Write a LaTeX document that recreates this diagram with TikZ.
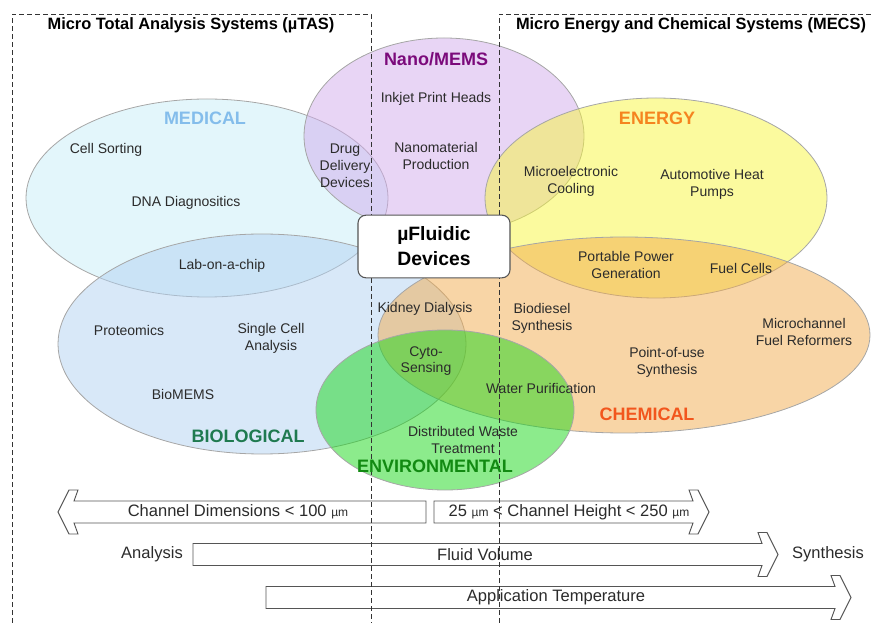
\documentclass[tikz,border=0pt]{standalone}
\usepackage{fontspec}
\setmainfont{Liberation Sans}
\definecolor{medfill}{HTML}{C7EDF7}
\definecolor{nanofill}{HTML}{D1ABEB}
\definecolor{enfill}{HTML}{F7F53D}
\definecolor{chemfill}{HTML}{F1AB4D}
\definecolor{biofill}{HTML}{B1D1F1}
\definecolor{envfill}{HTML}{19D719}
\definecolor{medlab}{HTML}{84BDEB}
\definecolor{nanolab}{HTML}{7B0A7B}
\definecolor{enlab}{HTML}{F5841F}
\definecolor{chemlab}{HTML}{F2561D}
\definecolor{biolab}{HTML}{1F7A50}
\definecolor{envlab}{HTML}{128A12}
\definecolor{txt}{HTML}{2B2B2B}
\definecolor{edge}{HTML}{555555}
\newcommand{\um}{{\fontsize{9}{10}\selectfont µm}}
% block arrow pointing right: start x, head base x, centre y
\newcommand{\blockarrowright}[3]{%
  \draw[blockarrow] (#1,#3-11) -- (#2,#3-11) -- (#2-4,#3-22) -- (#2+5,#3-22)
    -- (#2+16,#3) -- (#2+5,#3+22) -- (#2-4,#3+22) -- (#2,#3+11) -- (#1,#3+11) -- cycle;}
% block arrow pointing left: end x, head base x, centre y
\newcommand{\blockarrowleft}[3]{%
  \draw[blockarrow] (#1,#3-11) -- (#2,#3-11) -- (#2+4,#3-22) -- (#2-5,#3-22)
    -- (#2-16,#3) -- (#2-5,#3+22) -- (#2+4,#3+22) -- (#2,#3+11) -- (#1,#3+11) -- cycle;}
\tikzset{
  zone/.style={draw=black!35, line width=0.6pt, fill opacity=0.5},
  item/.style={font=\fontsize{10.5}{12.6}\selectfont, text=txt, align=center, inner sep=0pt},
  cat/.style={font=\fontsize{13.5}{16}\selectfont\bfseries, inner sep=0pt},
  hdr/.style={font=\fontsize{12.3}{14}\selectfont\bfseries, inner sep=0pt},
  bartext/.style={font=\fontsize{12.4}{14}\selectfont, text=txt, inner sep=0pt},
  blockarrow/.style={draw=edge, line width=0.7pt, fill=white, line join=miter},
  frame/.style={draw=black!80, line width=0.7pt, dash pattern=on 3.75pt off 2.25pt},
  core/.style={draw=edge, line width=0.8pt, fill=white, rounded corners=6pt,
    minimum width=114pt, minimum height=47pt, align=center,
    font=\fontsize{14.5}{18.8}\selectfont\bfseries}
}
\begin{document}
\begin{tikzpicture}[x=0.75pt,y=-0.75pt]
\useasboundingbox (0,0) rectangle (871,623);

% application areas
\path[zone, fill=medfill]  (207,198) ellipse [x radius=181, y radius=99];
\path[zone, fill=biofill]  (262,344) ellipse [x radius=204, y radius=110];
\path[zone, fill=nanofill] (444,136) ellipse [x radius=140, y radius=98];
\path[zone, fill=enfill]   (656,198) ellipse [x radius=171, y radius=100];
\path[zone, fill=chemfill] (624,335) ellipse [x radius=246, y radius=98];
\path[zone, fill=envfill]  (445,410) ellipse [x radius=129, y radius=80];

% scale bars
\blockarrowleft{426}{74}{512}
\blockarrowright{434}{693}{512}
\blockarrowright{193}{762}{554.5}
\blockarrowright{266}{835}{597.5}

% system boundaries
\draw[frame] (12,623) -- (12,14) -- (371,14) -- (371,623);
\draw[frame] (499,623) -- (499,14) -- (871,14);

% headers
\node[hdr] (mtas) at (191,25) {Micro Total Analysis Systems (µTAS)};
\node[hdr] (mecs) at (691,25) {Micro Energy and Chemical Systems (MECS)};

% category labels
\node[cat, text=medlab]  (medical) at (205,118) {MEDICAL};
\node[cat, text=nanolab] (nano)    at (436,59)  {Nano/MEMS};
\node[cat, text=enlab]   (energy)  at (657,118) {ENERGY};
\node[cat, text=chemlab] (chem)    at (647,414) {CHEMICAL};
\node[cat, text=biolab]  (bio)     at (248,436) {BIOLOGICAL};
\node[cat, text=envlab]  (env)     at (435,466) {ENVIRONMENTAL};

% applications
\node[item] (cells)   at (106,150) {Cell Sorting};
\node[item] (dna)     at (186,203) {DNA Diagnositics};
\node[item] (drug)    at (345,166) {Drug\\Delivery\\Devices};
\node[item] (lab)     at (222,266) {Lab-on-a-chip};
\node[item] (inkjet)  at (436,99)  {Inkjet Print Heads};
\node[item] (nanomat) at (436,156) {Nanomaterial\\Production};
\node[item] (cool)    at (571,181) {Microelectronic\\Cooling};
\node[item] (pumps)   at (712,184) {Automotive Heat\\Pumps};
\node[item] (power)   at (626,265) {Portable Power\\Generation};
\node[item] (fuel)    at (741,268) {Fuel Cells};
\node[item] (kidney)  at (425,309) {Kidney Dialysis};
\node[item] (biodsl)  at (542,318) {Biodiesel\\Synthesis};
\node[item] (reform)  at (804,332) {Microchannel\\Fuel Reformers};
\node[item] (pou)     at (667,362) {Point-of-use\\Synthesis};
\node[item] (water)   at (541,388) {Water Purification};
\node[item] (cyto)    at (426,361) {Cyto-\\Sensing};
\node[item] (prot)    at (129,330) {Proteomics};
\node[item] (single)  at (271,338) {Single Cell\\Analysis};
\node[item] (biomems) at (183,394) {BioMEMS};
\node[item] (waste)   at (463,440) {Distributed Waste\\Treatment};

% scale bar captions
\node[bartext] (dim)    at (238,512) {Channel Dimensions < 100 \um};
\node[bartext] (height) at (569,512) {25 \um{} < Channel Height < 250 \um};
\node[bartext] (vol)    at (485,554.5) {Fluid Volume};
\node[bartext] (anal)   at (152,554.5) {Analysis};
\node[bartext] (synth)  at (828,554.5) {Synthesis};
\node[bartext] (temp)   at (556,597.5) {Application Temperature};

% central device box
\node[core] (devices) at (434,246.5) {µFluidic\\Devices};
\end{tikzpicture}
\end{document}
